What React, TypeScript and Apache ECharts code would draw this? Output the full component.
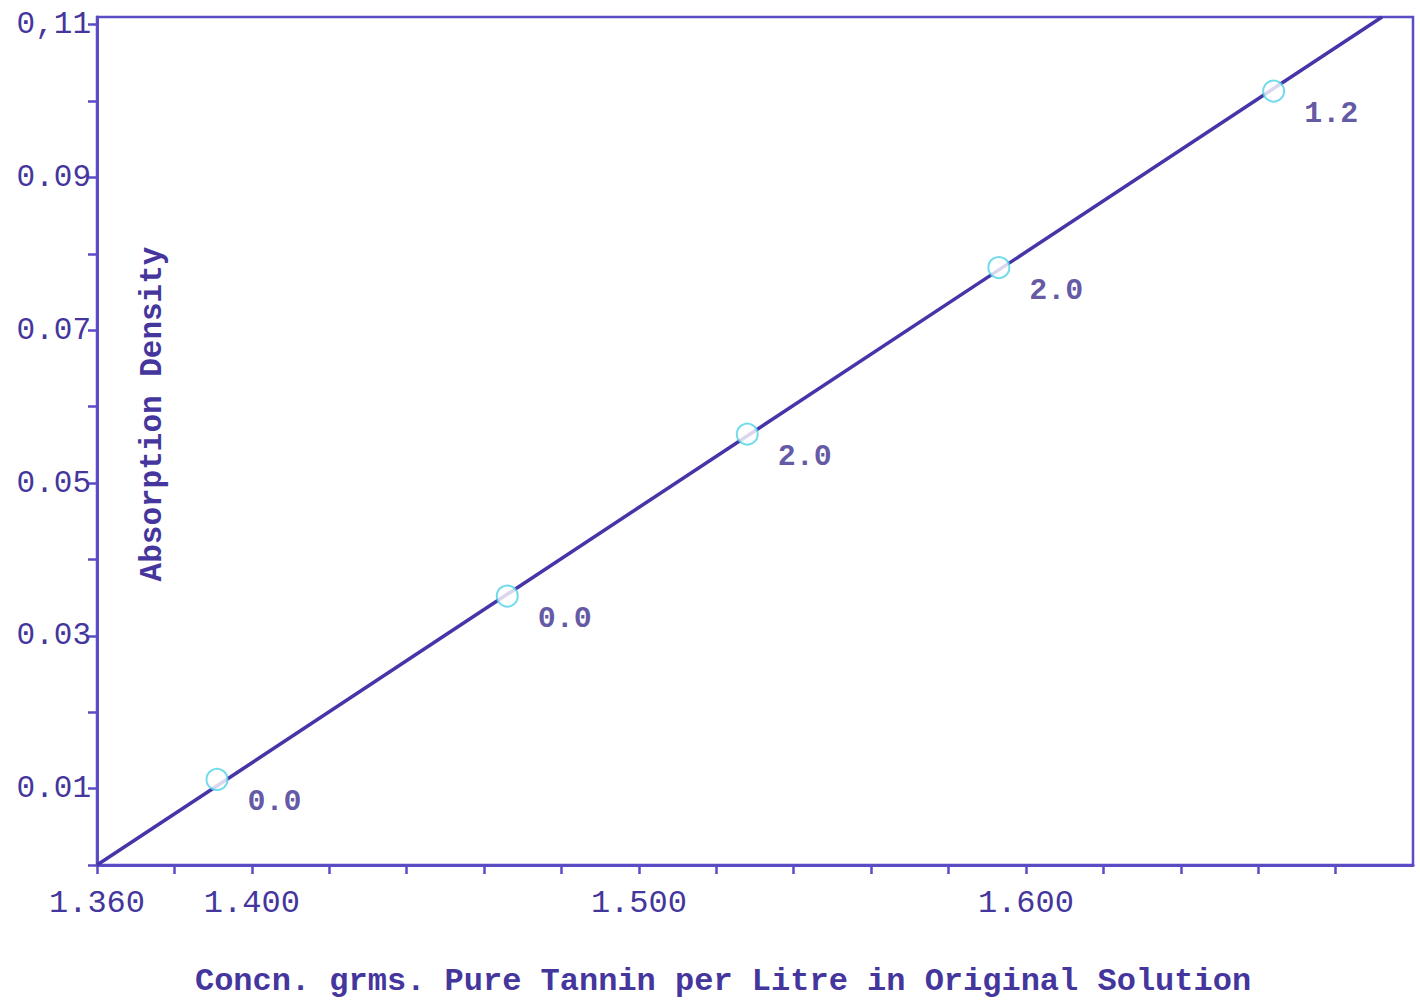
import React, { useEffect, useRef } from "react";
import * as echarts from "echarts";

const concentration = [1.391, 1.466, 1.528, 1.593, 1.664];
const absorption = [0.0112, 0.0352, 0.0564, 0.0782, 0.1013];
const pointLabels = ["0.0", "0.0", "2.0", "2.0", "1.2"];
const fitLineX = [1.36, 1.692];
const fitLineY = [0, 0.111];
const xTickValues = [1.36, 1.4, 1.5, 1.6];
const xTickLabels = ["1.360", "1.400", "1.500", "1.600"];
const yTickValues = [0.01, 0.03, 0.05, 0.07, 0.09, 0.11];
const yTickLabels = ["0.01", "0.03", "0.05", "0.07", "0.09", "0,11"];

const FONT = "'Liberation Mono', 'DejaVu Sans Mono', monospace";
const INK = "#44369c";
const AXIS = "#5a4cc4";

export default function App() {
  const ref = useRef<HTMLDivElement>(null);
  useEffect(() => {
    if (!ref.current) return;
    const chart = echarts.init(ref.current, null, { renderer: "svg" });
    const findLabel = (vals: number[], labels: string[], v: number) => {
      const i = vals.findIndex((t) => Math.abs(t - v) < 1e-6);
      return i >= 0 ? labels[i] : "";
    };
    chart.setOption({
      animation: false,
      backgroundColor: "#ffffff",
      grid: {
        left: 97,
        right: 7,
        top: 17,
        bottom: 131,
        show: true,
        borderColor: AXIS,
        borderWidth: 2.5,
      },
      xAxis: {
        type: "value",
        min: 1.36,
        max: 1.7,
        interval: 0.02,
        name: "Concn. grms. Pure Tannin per Litre in Original Solution",
        nameLocation: "middle",
        nameGap: 100,
        nameTextStyle: {
          fontFamily: FONT,
          fontSize: 32,
          fontWeight: "bold",
          color: INK,
          padding: [0, 64, 0, 0],
        },
        axisLine: { show: true, onZero: false, lineStyle: { color: AXIS, width: 3 } },
        axisTick: { show: true, inside: false, length: 9, lineStyle: { color: AXIS, width: 2.5 } },
        splitLine: { show: false },
        axisLabel: {
          fontFamily: FONT,
          fontSize: 32,
          color: INK,
          margin: 22,
          showMaxLabel: false,
          formatter: (v: number) => findLabel(xTickValues, xTickLabels, v),
        },
      },
      yAxis: {
        type: "value",
        min: 0,
        max: 0.111,
        interval: 0.01,
        axisLine: { show: true, onZero: false, lineStyle: { color: AXIS, width: 3 } },
        axisTick: { show: true, inside: false, length: 9, lineStyle: { color: AXIS, width: 2.5 } },
        splitLine: { show: false },
        axisLabel: {
          fontFamily: FONT,
          fontSize: 31,
          color: INK,
          margin: 6,
          showMaxLabel: false,
          formatter: (v: number) => findLabel(yTickValues, yTickLabels, v),
        },
      },
      graphic: [
        {
          type: "text",
          x: 152,
          y: 414,
          rotation: Math.PI / 2,
          style: {
            text: "Absorption Density",
            fontFamily: FONT,
            fontSize: 31,
            fontWeight: "bold",
            fill: INK,
            align: "center",
            verticalAlign: "middle",
          },
        },
      ],
      series: [
        {
          type: "line",
          data: fitLineX.map((x, i) => [x, fitLineY[i]]),
          symbol: "none",
          lineStyle: { color: "#4535a8", width: 3.5 },
          z: 2,
        },
        {
          type: "scatter",
          data: concentration.map((x, i) => [x, absorption[i]]),
          symbol: "emptyCircle",
          symbolSize: 21,
          itemStyle: { color: "#4fd2e6", borderColor: "#4fd2e6", borderWidth: 3 },
          label: {
            show: true,
            position: "right",
            distance: 14,
            offset: [5, 23],
            fontFamily: FONT,
            fontSize: 30,
            fontWeight: "bold",
            color: "#3a2c8e",
            formatter: (p: any) => pointLabels[p.dataIndex],
          },
          z: 3,
        },
      ],
    });
    return () => chart.dispose();
  }, []);
  return (
    <div
      ref={ref}
      style={{ position: "fixed", left: 0, top: 0, width: 1420, height: 1002, background: "#fff" }}
    />
  );
}
